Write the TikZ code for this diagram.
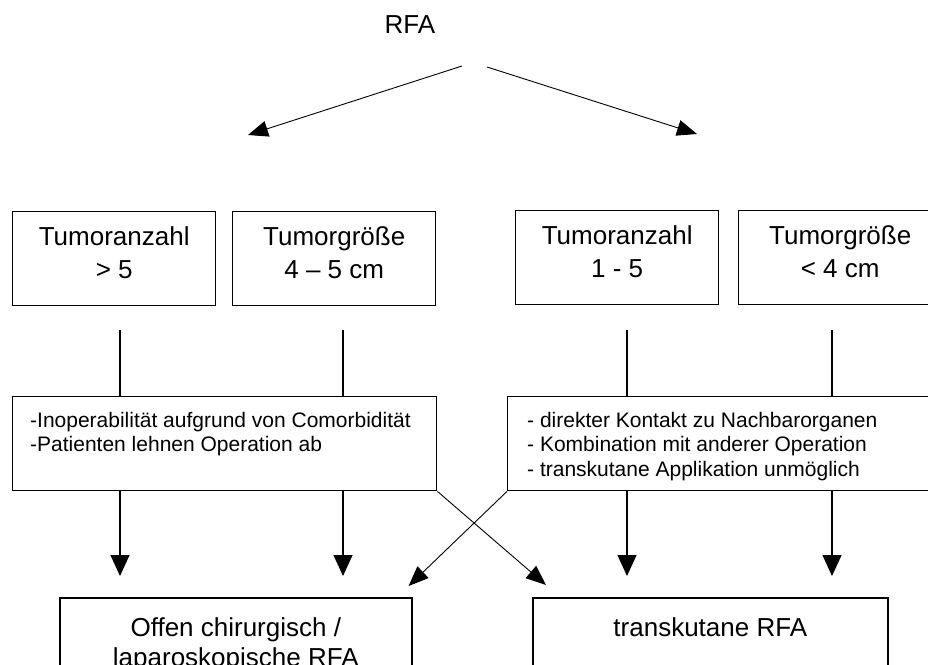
\documentclass[tikz,border=0pt]{standalone}
\usepackage{fontspec}
\setmainfont{Liberation Sans}
\usetikzlibrary{arrows.meta,positioning}

\tikzset{
  tumbox/.style={draw,line width=1.4pt,minimum width=203pt,minimum height=94pt,
    anchor=north west,align=center,inner sep=0pt,text depth=13pt,
    font=\fontsize{26}{33}\selectfont},
  critbox/.style={draw,line width=1.4pt,minimum height=94pt,anchor=north west,inner sep=0pt},
  crittext/.style={anchor=north west,align=left,inner sep=0pt,font=\fontsize{21}{24.5}\selectfont},
  resbox/.style={draw,line width=1.6pt,anchor=north west,align=center,inner xsep=0pt,
    inner ysep=20pt,font=\fontsize{26}{30}\selectfont},
  arr/.style={-{Triangle[length=21pt,width=19pt]},line width=1.2pt},
  thinarr/.style={-{Triangle[length=20pt,width=16pt]},line width=0.9pt}
}

\begin{document}
\begin{tikzpicture}[x=1pt,y=-1pt]
\useasboundingbox (0,0) rectangle (928,664);
\clip (0,0) rectangle (928,664);

\node[font=\fontsize{26}{30}\selectfont,anchor=base] (rfa) at (410,33) {RFA};
\coordinate (splitL) at (462,66);
\coordinate (splitR) at (487,67);
\coordinate (tipL) at (248,135);
\coordinate (tipR) at (697,134);
\draw[thinarr] (splitL) -- (tipL);
\draw[thinarr] (splitR) -- (tipR);

% Kriterien
\node[tumbox] (anz1) at (12,211) {Tumoranzahl\\> 5};
\node[tumbox] (gr1) at (232,211) {Tumorgröße\\4 – 5 cm};
\node[tumbox] (anz2) at (515,210) {Tumoranzahl\\1 - 5};
\node[tumbox] (gr2) at (738,210) {Tumorgröße\\< 4 cm};

\node[critbox,minimum width=424pt] (critL) at (12,396) {};
\node[crittext] (critLtext) at ([xshift=18pt,yshift=-16pt]critL.north west)
  {-Inoperabilität aufgrund von Comorbidität\\-Patienten lehnen Operation ab};
\node[critbox,minimum width=433pt] (critR) at (507,396) {};
\node[crittext] (critRtext) at ([xshift=20pt,yshift=-16pt]critR.north west)
  {- direkter Kontakt zu Nachbarorganen\\- Kombination mit anderer Operation\\- transkutane Applikation unmöglich};

% Therapie
\node[resbox,minimum width=352pt] (offen) at (59,597) {Offen chirurgisch /\\laparoskopische RFA};
\node[resbox,minimum width=355pt,text depth=36pt] (trans) at (532,597) {transkutane RFA};

\foreach \x/\c/\r in {120/critL/offen,343/critL/offen,627/critR/trans,832/critR/trans} {
  \coordinate (top) at (\x,330);
  \draw[line width=1.2pt] (top) -- (top |- \c.north);
  \draw[arr,shorten >=21pt] (top |- \c.south) -- (top |- \r.north);
}

\draw[thinarr] (critL.south east) -- ([xshift=14pt,yshift=12pt]trans.north west);
\draw[thinarr] (critR.south west) -- ([xshift=-4pt,yshift=11pt]offen.north east);
\end{tikzpicture}
\end{document}
